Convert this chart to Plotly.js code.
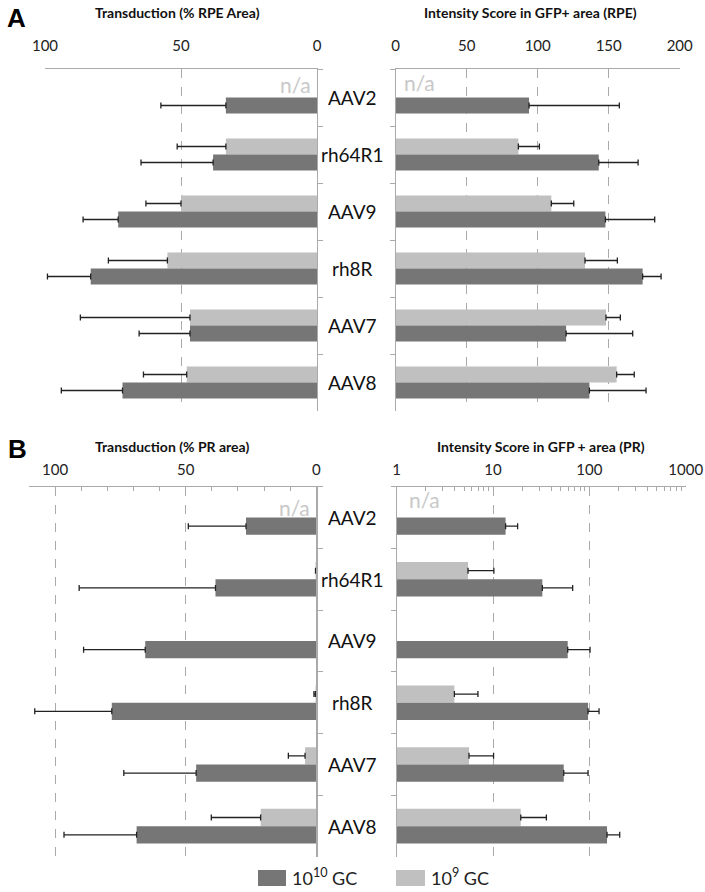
<!DOCTYPE html>
<html>
<head>
<meta charset="utf-8">
<script src="https://cdn.plot.ly/plotly-3.0.1.min.js"></script>
<style>html,body{margin:0;padding:0;background:#fff;}#chart{width:705px;height:892px;}</style>
</head>
<body>
<div id="chart"></div>
<script>
// ---- data ----
const categories = ["AAV2", "rh64R1", "AAV9", "rh8R", "AAV7", "AAV8"];
const seriesNames = ["10<sup>10</sup> GC", "10<sup>9</sup> GC"];

// Panel A left: Transduction (% RPE Area)
const rpeTransHigh = [33.5, 38.2, 73.1, 83.2, 46.7, 71.5];
const rpeTransHighSD = [23.9, 26.5, 12.9, 15.9, 18.7, 22.5];
const rpeTransLow = [null, 33.5, 50.0, 55.0, 46.7, 47.9];
const rpeTransLowSD = [null, 17.9, 12.9, 21.7, 40.3, 15.9];

// Panel A right: Intensity Score in GFP+ area (RPE)
const rpeIntHigh = [93.9, 143.0, 147.7, 173.9, 120.0, 136.4];
const rpeIntHighSD = [63.6, 27.7, 34.7, 13.0, 46.9, 39.9];
const rpeIntLow = [null, 86.4, 109.6, 133.3, 148.1, 155.6];
const rpeIntLowSD = [null, 14.8, 15.8, 22.8, 10.1, 12.4];

// Panel B left: Transduction (% PR area)
const prTransHigh = [26.9, 38.6, 65.5, 78.3, 46.0, 68.8];
const prTransHighSD = [22.1, 52.2, 23.6, 29.5, 27.7, 27.8];
const prTransLow = [null, 0.3, null, 0.3, 4.3, 21.3];
const prTransLowSD = [null, 0, null, 0.6, 6.4, 18.9];

// Panel B right: Intensity Score in GFP + area (PR), log scale
const prIntHigh = [13.5, 32.5, 59.6, 96.9, 54.2, 152.5];
const prIntHighSD = [4.5, 34.6, 42.0, 29.1, 42.7, 54.0];
const prIntLow = [null, 5.5, null, 3.97, 5.63, 19.4];
const prIntLowSD = [null, 4.7, null, 3.0, 4.5, 16.4];

// tick labels
const ticksALeft = [0, 50, 100];
const ticksARight = [0, 50, 100, 150, 200];
const ticksBLeft = [0, 50, 100];
const ticksBRight = [1, 10, 100, 1000];
const minorBRight = [2,3,4,5,6,7,8,9,20,30,40,50,60,70,80,90,200,300,400,500,600,700,800,900];

// ---- styling ----
const DARK = "#767676";
const LIGHT = "#c0c0c0";
const FONT = "Lato, 'Open Sans', sans-serif";
const W = 705, H = 892;
const px = v => v / W;
const py = v => 1 - v / H;

function zeros(a){ return a.map(v => v === null ? null : 0); }

function barTrace(vals, sd, name, color, xa, ya){
  return {
    type: "bar", orientation: "h",
    x: vals, y: categories, name: name,
    xaxis: xa, yaxis: ya,
    marker: {color: color},
    showlegend: false,
    error_x: {type: "data", symmetric: false, array: sd, arrayminus: zeros(sd),
              color: "#222", thickness: 1.3, width: 3},
    hoverinfo: "x+y"
  };
}

const data = [
  barTrace(rpeTransLow, rpeTransLowSD, seriesNames[1], LIGHT, "x", "y"),
  barTrace(rpeTransHigh, rpeTransHighSD, seriesNames[0], DARK, "x", "y"),
  barTrace(rpeIntLow, rpeIntLowSD, seriesNames[1], LIGHT, "x2", "y2"),
  barTrace(rpeIntHigh, rpeIntHighSD, seriesNames[0], DARK, "x2", "y2"),
  barTrace(prTransLow, prTransLowSD, seriesNames[1], LIGHT, "x3", "y3"),
  barTrace(prTransHigh, prTransHighSD, seriesNames[0], DARK, "x3", "y3"),
  barTrace(prIntLow, prIntLowSD, seriesNames[1], LIGHT, "x4", "y4"),
  barTrace(prIntHigh, prIntHighSD, seriesNames[0], DARK, "x4", "y4")
];

const gridCommon = {
  side: "top", showline: true, linecolor: "#aaa", linewidth: 1.2,
  showgrid: true, gridcolor: "#aaa", griddash: "dash", gridwidth: 1,
  zeroline: false, ticks: "inside", ticklen: 4, tickcolor: "#aaa",
  tickfont: {family: FONT, size: 15, color: "#222"}, fixedrange: true
};

function yAx(domain, anchor, side){
  return {
    domain: domain, anchor: anchor, side: side,
    type: "category", categoryorder: "array", categoryarray: categories,
    range: [5.5, -0.5],
    showline: true, linecolor: "#aaa", linewidth: 1.2,
    ticks: "outside", tickson: "boundaries", ticklen: 5, tickcolor: "#aaa",
    showticklabels: false, showgrid: false, zeroline: false, fixedrange: true
  };
}

const yA = [py(411), py(69)];
const yB = [py(857), py(486.7)];

const layout = {
  width: W, height: H,
  margin: {l: 0, r: 0, t: 0, b: 0},
  paper_bgcolor: "#fff", plot_bgcolor: "rgba(0,0,0,0)",
  font: {family: FONT, color: "#222"},
  barmode: "group", bargap: 0.44, bargroupgap: 0,
  showlegend: false,
  xaxis: Object.assign({}, gridCommon, {
    domain: [px(45), px(317)], anchor: "y", range: [100, 0],
    tickvals: ticksALeft, ticklabelstandoff: 11
  }),
  yaxis: yAx(yA, "x", "right"),
  xaxis2: Object.assign({}, gridCommon, {
    domain: [px(395.7), px(679.7)], anchor: "y2", range: [0, 200],
    tickvals: ticksARight, ticklabelstandoff: 11
  }),
  yaxis2: yAx(yA, "x2", "left"),
  xaxis3: Object.assign({}, gridCommon, {
    domain: [px(29), px(316.3)], anchor: "y3", range: [110, 0],
    tickvals: ticksBLeft, ticklabelstandoff: 5,
    minor: {dtick: 10, ticks: "inside", ticklen: 4, tickcolor: "#aaa", showgrid: false}
  }),
  yaxis3: yAx(yB, "x3", "right"),
  xaxis4: Object.assign({}, gridCommon, {
    domain: [px(396.7), px(685.7)], anchor: "y4", type: "log", range: [0, 3],
    tickvals: ticksBRight, ticktext: ticksBRight.map(String), ticklabelstandoff: 5,
    minor: {tickvals: minorBRight, ticks: "inside", ticklen: 4, tickcolor: "#aaa", showgrid: false}
  }),
  yaxis4: yAx(yB, "x4", "left"),
  shapes: [
    {type: "rect", xref: "paper", yref: "paper", x0: px(258), x1: px(286), y0: py(886), y1: py(870),
     fillcolor: DARK, line: {width: 0}},
    {type: "rect", xref: "paper", yref: "paper", x0: px(396), x1: px(425), y0: py(886), y1: py(870),
     fillcolor: LIGHT, line: {width: 0}}
  ],
  annotations: []
};

const ann = layout.annotations;
// legend texts
ann.push({text: seriesNames[0], xref: "paper", yref: "paper", x: px(290), y: py(877), xanchor: "left", yanchor: "middle",
  showarrow: false, font: {family: FONT, size: 18, color: "#222"}});
ann.push({text: seriesNames[1], xref: "paper", yref: "paper", x: px(429), y: py(877), xanchor: "left", yanchor: "middle",
  showarrow: false, font: {family: FONT, size: 18, color: "#222"}});
// panel letters
ann.push({text: "<b>A</b>", xref: "paper", yref: "paper", x: px(16), y: py(18), xanchor: "center", yanchor: "middle",
  showarrow: false, font: {family: "Liberation Sans, Arial, sans-serif", size: 26, color: "#000"}});
ann.push({text: "<b>B</b>", xref: "paper", yref: "paper", x: px(17), y: py(449), xanchor: "center", yanchor: "middle",
  showarrow: false, font: {family: "Liberation Sans, Arial, sans-serif", size: 26, color: "#000"}});
// panel titles
const titles = [
  ["Transduction (% RPE Area)", 178, 12],
  ["Intensity Score in GFP+ area (RPE)", 530, 12],
  ["Transduction (% PR area)", 172, 447],
  ["Intensity Score in GFP + area (PR)", 541, 447]
];
titles.forEach(t => ann.push({text: "<b>" + t[0] + "</b>", xref: "paper", yref: "paper",
  x: px(t[1]), y: py(t[2]), xanchor: "center", yanchor: "middle", showarrow: false,
  font: {family: FONT, size: 14, color: "#111"}}));
// category labels in the centre column
categories.forEach(c => {
  ann.push({text: c, xref: "paper", yref: "y", x: px(352), y: c, xanchor: "center", yanchor: "middle",
    showarrow: false, font: {family: FONT, size: 19, color: "#111"}});
  ann.push({text: c, xref: "paper", yref: "y3", x: px(352), y: c, xanchor: "center", yanchor: "middle",
    showarrow: false, font: {family: FONT, size: 19, color: "#111"}});
});
// n/a labels
const naFont = {family: FONT, size: 21, color: "#c8c8c8"};
ann.push({text: "n/a", xref: "x", yref: "y", x: 0, y: "AAV2", xanchor: "right", xshift: -4, yshift: 13, showarrow: false, font: naFont});
ann.push({text: "n/a", xref: "x2", yref: "y2", x: 0, y: "AAV2", xanchor: "left", xshift: 6, yshift: 15, showarrow: false, font: naFont});
ann.push({text: "n/a", xref: "x3", yref: "y3", x: 0, y: "AAV2", xanchor: "right", xshift: -4, yshift: 10, showarrow: false, font: naFont});
ann.push({text: "n/a", xref: "x4", yref: "y4", x: 0, y: "AAV2", xanchor: "left", xshift: 10, yshift: 18, showarrow: false, font: naFont});

Plotly.newPlot("chart", data, layout, {displayModeBar: false, staticPlot: true});
</script>
</body>
</html>
